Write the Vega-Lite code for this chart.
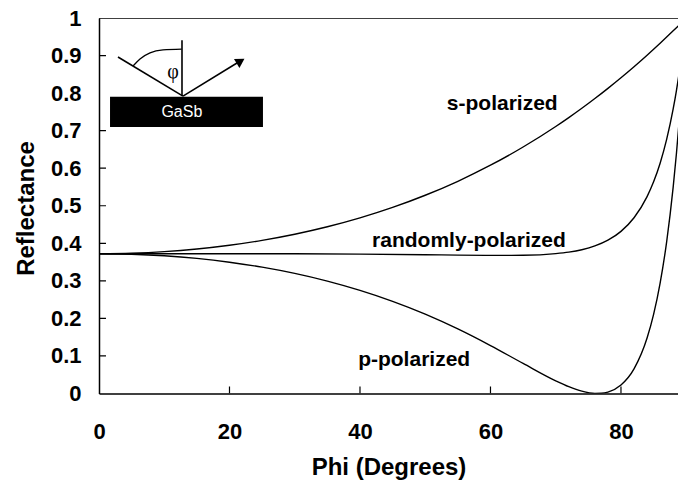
{
  "$schema": "https://vega.github.io/schema/vega-lite/v6.json",
  "width": 579,
  "height": 375.5,
  "autosize": {"type": "none"},
  "padding": {"left": 99, "top": 18, "right": 0, "bottom": 94.5},
  "background": "white",
  "config": {
    "view": {"stroke": null},
    "font": "Liberation Sans",
    "axis": {
      "grid": false,
      "domainColor": "black",
      "domainWidth": 1.5,
      "ticks": false,
      "labelOverlap": false,
      "labelFlush": false,
      "labelFont": "Liberation Sans",
      "labelFontSize": 22,
      "labelFontWeight": "bold",
      "labelColor": "black",
      "titleFont": "Liberation Sans",
      "titleFontSize": 24,
      "titleFontWeight": "bold",
      "titleColor": "black"
    }
  },
  "datasets": {
    "curves": [
      {"x": 0, "y": 0.3723, "pol": "s"},
      {"x": 5, "y": 0.3737, "pol": "s"},
      {"x": 10, "y": 0.3778, "pol": "s"},
      {"x": 15, "y": 0.3848, "pol": "s"},
      {"x": 20, "y": 0.3948, "pol": "s"},
      {"x": 25, "y": 0.4078, "pol": "s"},
      {"x": 30, "y": 0.4241, "pol": "s"},
      {"x": 35, "y": 0.444, "pol": "s"},
      {"x": 40, "y": 0.4677, "pol": "s"},
      {"x": 45, "y": 0.4955, "pol": "s"},
      {"x": 50, "y": 0.5279, "pol": "s"},
      {"x": 55, "y": 0.5652, "pol": "s"},
      {"x": 60, "y": 0.6079, "pol": "s"},
      {"x": 65, "y": 0.6564, "pol": "s"},
      {"x": 70, "y": 0.7111, "pol": "s"},
      {"x": 72, "y": 0.7348, "pol": "s"},
      {"x": 74, "y": 0.7596, "pol": "s"},
      {"x": 76, "y": 0.7856, "pol": "s"},
      {"x": 78, "y": 0.8127, "pol": "s"},
      {"x": 80, "y": 0.8409, "pol": "s"},
      {"x": 82, "y": 0.8703, "pol": "s"},
      {"x": 84, "y": 0.9009, "pol": "s"},
      {"x": 85, "y": 0.9167, "pol": "s"},
      {"x": 86, "y": 0.9328, "pol": "s"},
      {"x": 87, "y": 0.9491, "pol": "s"},
      {"x": 88, "y": 0.9658, "pol": "s"},
      {"x": 88.5, "y": 0.9742, "pol": "s"},
      {"x": 89, "y": 0.9827, "pol": "s"},
      {"x": 0, "y": 0.3723, "pol": "p"},
      {"x": 5, "y": 0.3709, "pol": "p"},
      {"x": 10, "y": 0.3668, "pol": "p"},
      {"x": 15, "y": 0.3598, "pol": "p"},
      {"x": 20, "y": 0.3497, "pol": "p"},
      {"x": 25, "y": 0.3365, "pol": "p"},
      {"x": 30, "y": 0.3199, "pol": "p"},
      {"x": 35, "y": 0.2994, "pol": "p"},
      {"x": 40, "y": 0.2747, "pol": "p"},
      {"x": 45, "y": 0.2455, "pol": "p"},
      {"x": 50, "y": 0.2114, "pol": "p"},
      {"x": 55, "y": 0.172, "pol": "p"},
      {"x": 60, "y": 0.1277, "pol": "p"},
      {"x": 65, "y": 0.0801, "pol": "p"},
      {"x": 70, "y": 0.0338, "pol": "p"},
      {"x": 72, "y": 0.0182, "pol": "p"},
      {"x": 74, "y": 0.0062, "pol": "p"},
      {"x": 76, "y": 0.0002, "pol": "p"},
      {"x": 77, "y": 0.0005, "pol": "p"},
      {"x": 78, "y": 0.0038, "pol": "p"},
      {"x": 80, "y": 0.0226, "pol": "p"},
      {"x": 82, "y": 0.0656, "pol": "p"},
      {"x": 84, "y": 0.1476, "pol": "p"},
      {"x": 85, "y": 0.2105, "pol": "p"},
      {"x": 86, "y": 0.2939, "pol": "p"},
      {"x": 87, "y": 0.404, "pol": "p"},
      {"x": 88, "y": 0.5495, "pol": "p"},
      {"x": 88.5, "y": 0.6391, "pol": "p"},
      {"x": 89, "y": 0.7425, "pol": "p"},
      {"x": 0, "y": 0.3723, "pol": "random"},
      {"x": 10, "y": 0.3723, "pol": "random"},
      {"x": 20, "y": 0.3722, "pol": "random"},
      {"x": 30, "y": 0.372, "pol": "random"},
      {"x": 40, "y": 0.3712, "pol": "random"},
      {"x": 50, "y": 0.3696, "pol": "random"},
      {"x": 55, "y": 0.3686, "pol": "random"},
      {"x": 60, "y": 0.3678, "pol": "random"},
      {"x": 65, "y": 0.3682, "pol": "random"},
      {"x": 70, "y": 0.3725, "pol": "random"},
      {"x": 72, "y": 0.3765, "pol": "random"},
      {"x": 74, "y": 0.3829, "pol": "random"},
      {"x": 76, "y": 0.3929, "pol": "random"},
      {"x": 78, "y": 0.4082, "pol": "random"},
      {"x": 80, "y": 0.4318, "pol": "random"},
      {"x": 82, "y": 0.468, "pol": "random"},
      {"x": 84, "y": 0.5243, "pol": "random"},
      {"x": 85, "y": 0.5636, "pol": "random"},
      {"x": 86, "y": 0.6133, "pol": "random"},
      {"x": 87, "y": 0.6766, "pol": "random"},
      {"x": 88, "y": 0.7577, "pol": "random"},
      {"x": 88.5, "y": 0.8067, "pol": "random"},
      {"x": 89, "y": 0.8626, "pol": "random"}
    ],
    "labels": [
      {"x": 61.8, "y": 0.755, "text": "s-polarized"},
      {"x": 56.7, "y": 0.391, "text": "randomly-polarized"},
      {"x": 48.3, "y": 0.074, "text": "p-polarized"}
    ],
    "segments": [
      {"x": 0, "y": 1, "x2": 90, "y2": 1, "w": 1.5},
      {"x": 2.91, "y": 0.896, "x2": 12.87, "y2": 0.792, "w": 1.6},
      {"x": 12.72, "y": 0.941, "x2": 12.72, "y2": 0.792, "w": 1.6},
      {"x": 12.87, "y": 0.792, "x2": 21.9, "y2": 0.888, "w": 1.6},
      {"x": 20, "y": 0, "x2": 20, "y2": 0.0186, "w": 1.2},
      {"x": 40, "y": 0, "x2": 40, "y2": 0.0186, "w": 1.2},
      {"x": 60, "y": 0, "x2": 60, "y2": 0.0186, "w": 1.2},
      {"x": 80, "y": 0, "x2": 80, "y2": 0.0186, "w": 1.2},
      {"x": 0, "y": 0.1, "x2": 1.07, "y2": 0.1, "w": 1.2},
      {"x": 0, "y": 0.2, "x2": 1.07, "y2": 0.2, "w": 1.2},
      {"x": 0, "y": 0.3, "x2": 1.07, "y2": 0.3, "w": 1.2},
      {"x": 0, "y": 0.4, "x2": 1.07, "y2": 0.4, "w": 1.2},
      {"x": 0, "y": 0.5, "x2": 1.07, "y2": 0.5, "w": 1.2},
      {"x": 0, "y": 0.6, "x2": 1.07, "y2": 0.6, "w": 1.2},
      {"x": 0, "y": 0.7, "x2": 1.07, "y2": 0.7, "w": 1.2},
      {"x": 0, "y": 0.9, "x2": 1.07, "y2": 0.9, "w": 1.2}
    ],
    "arc": [
      {"x": 5.21, "y": 0.872},
      {"x": 6.28, "y": 0.891},
      {"x": 7.82, "y": 0.907},
      {"x": 9.81, "y": 0.915},
      {"x": 12.67, "y": 0.917}
    ]
  },
  "encoding": {
    "x": {
      "field": "x",
      "type": "quantitative",
      "scale": {"domain": [0, 88.74], "nice": false},
      "axis": {
        "title": "Phi (Degrees)",
        "values": [0, 20, 40, 60, 80],
        "labelOverlap": false,
        "labelFlush": false,
        "labelBaseline": "alphabetic",
        "labelPadding": 45,
        "titleBaseline": "alphabetic",
        "titleY": 80.5,
        "titleX": 289.5
      }
    },
    "y": {
      "field": "y",
      "type": "quantitative",
      "scale": {"domain": [0, 1], "nice": false},
      "axis": {
        "title": "Reflectance",
        "values": [0, 0.1, 0.2, 0.3, 0.4, 0.5, 0.6, 0.7, 0.8, 0.9, 1],
        "format": ".1~f",
        "labelOverlap": false,
        "labelFlush": false,
        "labelPadding": 18,
        "titleBaseline": "alphabetic",
        "titleX": -65.7,
        "titleY": 190
      }
    }
  },
  "layer": [
    {
      "data": {"name": "curves"},
      "mark": {"type": "line", "color": "black", "strokeWidth": 1.4, "clip": true, "interpolate": "monotone"},
      "encoding": {"detail": {"field": "pol"}}
    },
    {
      "data": {"name": "segments"},
      "mark": {"type": "rule", "color": "black", "clip": true},
      "encoding": {
        "x2": {"field": "x2"},
        "y2": {"field": "y2"},
        "strokeWidth": {"field": "w", "type": "quantitative", "scale": null}
      }
    },
    {
      "data": {"name": "labels"},
      "mark": {"type": "text", "font": "Liberation Sans", "fontSize": 21, "fontWeight": "bold", "color": "black", "align": "center", "baseline": "alphabetic"},
      "encoding": {"text": {"field": "text"}}
    },
    {
      "data": {"values": [{"x": 1.69, "x2": 25.13, "y": 0.71, "y2": 0.79}]},
      "mark": {"type": "rect", "color": "black"},
      "encoding": {"x2": {"field": "x2"}, "y2": {"field": "y2"}}
    },
    {
      "data": {"values": [{"x": 12.7, "y": 0.75, "t": "GaSb"}]},
      "mark": {"type": "text", "font": "Liberation Sans", "fontSize": 16, "color": "white", "align": "center", "baseline": "middle"},
      "encoding": {"text": {"field": "t"}}
    },
    {
      "data": {"values": [{"x": 21.7, "y": 0.885, "a": 58.6}]},
      "mark": {"type": "point", "shape": "triangle-up", "filled": true, "color": "black", "size": 110, "opacity": 1},
      "encoding": {"angle": {"field": "a", "type": "quantitative", "scale": null}}
    },
    {
      "data": {"name": "arc"},
      "mark": {"type": "line", "color": "black", "strokeWidth": 1.3, "interpolate": "monotone"},
      "encoding": {}
    },
    {
      "data": {"values": [{"x": 11.34, "y": 0.856, "t": "φ"}]},
      "mark": {"type": "text", "font": "Liberation Serif", "fontSize": 20, "color": "black", "align": "center", "baseline": "middle"},
      "encoding": {"text": {"field": "t"}}
    }
  ]
}
